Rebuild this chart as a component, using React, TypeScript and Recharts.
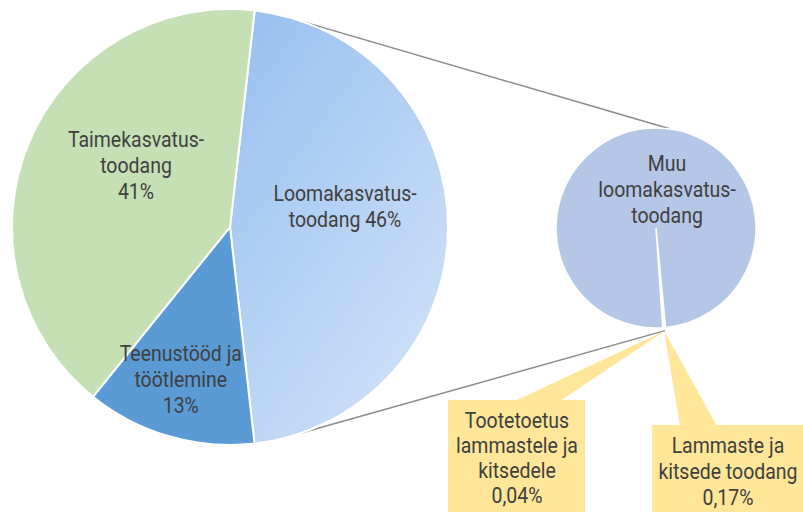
import { Cell, Customized, Pie, PieChart } from "recharts";

// main pie
const mainNames = ["Loomakasvatus-toodang", "Teenustööd ja töötlemine", "Taimekasvatus-toodang"];
const mainValues = [46.4, 12.6, 41.0];
const mainColors = ["url(#loomGradient)", "#5b9bd5", "#c5e0b4"];
const mainLabels = [
  ["Loomakasvatus-", "toodang 46%"],
  ["Teenustööd ja", "töötlemine", "13%"],
  ["Taimekasvatus-", "toodang", "41%"],
];

// secondary pie (split of Loomakasvatus-toodang)
const subNames = ["Tootetoetus lammastele ja kitsedele", "Lammaste ja kitsede toodang", "Muu loomakasvatus-toodang"];
const subValues = [0.04, 0.17, 46.19];
const subColors = ["#ffffff", "#ffffff", "#b4c7e7"];
const subLabels = [
  ["Tootetoetus", "lammastele ja", "kitsedele", "0,04%"],
  ["Lammaste ja", "kitsede toodang", "0,17%"],
  ["Muu", "loomakasvatus-", "toodang"],
];

const mainData = mainNames.map((name, i) => ({ name, value: mainValues[i] }));
const subData = subNames.map((name, i) => ({ name, value: subValues[i] }));

const W = 803;
const H = 512;
const MAIN = { cx: 230, cy: 227, r: 218, start: 83.5 };
const SUB = { cx: 656, cy: 228, r: 100, start: -84.5 };
const FONT = "Roboto, 'Noto Sans', sans-serif";
const FS = 22;
const SX = 0.885; // the source font is narrow
const TEXT = "#404040";
const YELLOW = "#ffe699";
const RAD = Math.PI / 180;

const mainPlace = [
  { r: 117, shift: 10.6 },
  { r: 160, shift: -1.7 },
  { r: 112.6, shift: -10.7 },
];

const Lines = ({ x, cy, lines, lh }: { x: number; cy: number; lines: string[]; lh: number }) => {
  const top = cy - ((lines.length - 1) * lh) / 2;
  return (
    <text
      transform={`translate(${x} 0) scale(${SX} 1)`}
      textAnchor="middle"
      fill={TEXT}
      fontSize={FS}
      fontFamily={FONT}
    >
      {lines.map((l, i) => (
        <tspan key={i} x={0} y={top + i * lh + 8}>
          {l}
        </tspan>
      ))}
    </text>
  );
};

const renderMainLabel = (props: any) => {
  const { cx, cy, midAngle, index } = props;
  const p = mainPlace[index];
  const a = (midAngle + p.shift) * RAD;
  return <Lines x={cx + p.r * Math.cos(a)} cy={cy - p.r * Math.sin(a)} lines={mainLabels[index]} lh={26} />;
};

// callout boxes, offsets from the tip at the small slices
const callouts = [
  { box: [-217.6, -80.6, 69.4, 184], base: [-150.6, -105.6], tx: -148.6, ty: 89.4, lh: 25 },
  { box: [-12.2, 142, 94.3, 184], base: [15.8, 52.8], tx: 63.8, ty: 114.3, lh: 26 },
];

const renderSubLabel = (props: any) => {
  const { cx, cy, midAngle, outerRadius, index } = props;
  if (index === 2) {
    const a = (midAngle - 20.5) * RAD;
    return <Lines x={cx + 40.5 * Math.cos(a)} cy={cy - 40.5 * Math.sin(a)} lines={subLabels[2]} lh={26} />;
  }
  const c = callouts[index];
  const tx = cx + (outerRadius + 3) * Math.cos(-midAngle * RAD);
  const ty = cy + (outerRadius + 3) * Math.sin(-midAngle * RAD);
  const [l, r, t, b] = c.box;
  return (
    <g>
      <polygon
        points={`${tx},${ty} ${tx + c.base[0]},${ty + t + 1} ${tx + c.base[1]},${ty + t + 1}`}
        fill={YELLOW}
      />
      <rect x={tx + l} y={ty + t} width={r - l} height={b - t} fill={YELLOW} />
      <Lines x={tx + c.tx} cy={ty + c.ty + ((subLabels[index].length - 1) * c.lh) / 2} lines={subLabels[index]} lh={c.lh} />
    </g>
  );
};

const polar = (cx: number, cy: number, r: number, cw: number) => ({
  x: cx + r * Math.sin(cw * RAD),
  y: cy - r * Math.cos(cw * RAD),
});

// series lines between the two pies
const Connectors = () => {
  const a = polar(MAIN.cx, MAIN.cy, MAIN.r, 20);
  const b = polar(SUB.cx, SUB.cy, SUB.r, 8.3);
  const c = polar(MAIN.cx, MAIN.cy, MAIN.r, 160.7);
  const d = polar(SUB.cx, SUB.cy, SUB.r + 3, 175);
  return (
    <g stroke="#8a8a8a" strokeWidth={1.5}>
      <line x1={a.x} y1={a.y} x2={b.x} y2={b.y} />
      <line x1={c.x} y1={c.y} x2={d.x} y2={d.y} />
    </g>
  );
};

export default function App() {
  return (
    <div style={{ position: "absolute", left: 0, top: 0, width: W, height: H, background: "#fff" }}>
      <PieChart width={W} height={H} margin={{ top: 0, right: 0, bottom: 0, left: 0 }}>
        <defs>
          <linearGradient id="loomGradient" x1="0.2" y1="0" x2="0.9" y2="1">
            <stop offset="0%" stopColor="#9cc2f0" />
            <stop offset="100%" stopColor="#d3e4f8" />
          </linearGradient>
        </defs>
        <Customized component={Connectors} />
        <Pie
          data={mainData}
          dataKey="value"
          nameKey="name"
          cx={MAIN.cx}
          cy={MAIN.cy}
          outerRadius={MAIN.r}
          startAngle={MAIN.start}
          endAngle={MAIN.start - 360}
          stroke="#ffffff"
          strokeWidth={2}
          label={renderMainLabel}
          labelLine={false}
          isAnimationActive={false}
        >
          {mainData.map((d, i) => (
            <Cell key={d.name} fill={mainColors[i]} />
          ))}
        </Pie>
        <Pie
          data={subData}
          dataKey="value"
          nameKey="name"
          cx={SUB.cx}
          cy={SUB.cy}
          outerRadius={SUB.r}
          startAngle={SUB.start}
          endAngle={SUB.start - 360}
          stroke="#ffffff"
          strokeWidth={1.5}
          label={renderSubLabel}
          labelLine={false}
          isAnimationActive={false}
        >
          {subData.map((d, i) => (
            <Cell key={d.name} fill={subColors[i]} />
          ))}
        </Pie>
      </PieChart>
    </div>
  );
}
